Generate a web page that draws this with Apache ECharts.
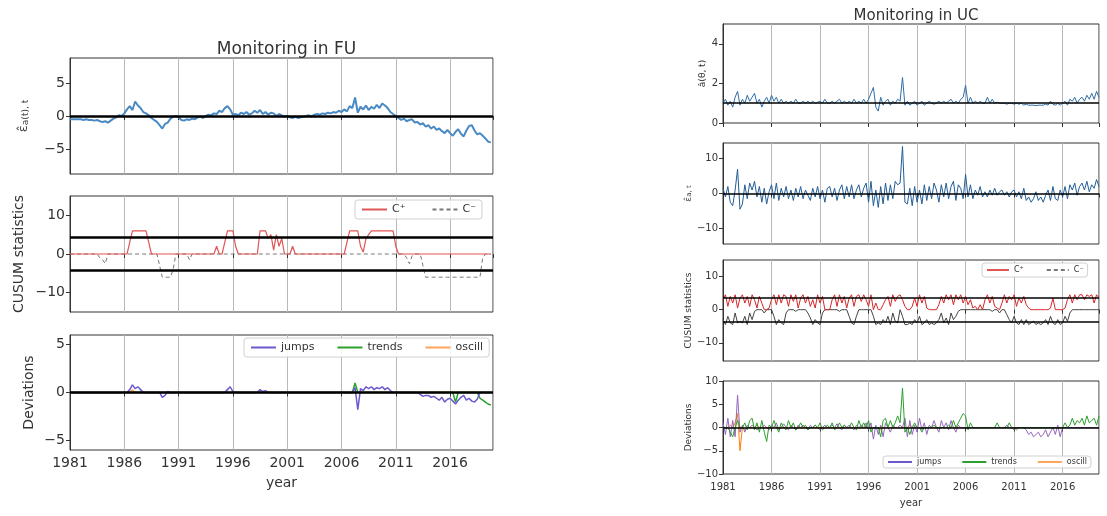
<!DOCTYPE html>
<html><head><meta charset="utf-8">
<script src="https://cdn.jsdelivr.net/npm/echarts@6/dist/echarts.min.js"></script>
<style>html,body{margin:0;padding:0;background:#fff}#c{width:1107px;height:516px}</style>
</head><body><div id="c"></div><script>
// ---------------- data ----------------
const START_YEAR = 1981;
const STEP = 0.25; // quarterly samples, 1981.00 ... 2019.75
const xTickLabels = ['1981','1986','1991','1996','2001','2006','2011','2016'];

// Left: Monitoring in FU
const fuEps = [
 -0.5,-0.5,-0.5,-0.5,  -0.5,-0.6,-0.5,-0.6,  -0.6,-0.7,-0.6,-0.8,  -0.9,-0.8,-1.0,-0.7,
 -0.4,-0.2,0.1,0.0,    0.4,1.0,1.5,0.9,      2.2,1.6,1.2,0.6,      0.4,0.1,-0.3,-0.6,
 -0.9,-1.4,-1.9,-1.2,  -1.0,-0.4,-0.1,0.0,   -0.2,-0.6,-0.7,-0.5,  -0.6,-0.4,-0.5,-0.2,
 -0.1,-0.3,0.0,0.2,    0.1,0.4,0.3,0.8,      0.6,1.2,1.5,1.0,      0.2,0.3,0.1,0.5,
 0.3,0.6,0.2,0.4,      0.8,0.5,0.9,0.3,      0.6,0.2,0.5,0.4,      0.0,0.3,0.1,-0.1,
 0.0,-0.2,-0.3,-0.1,   -0.3,-0.2,-0.1,0.0,   0.1,-0.1,0.2,0.3,     0.2,0.4,0.3,0.5,
 0.4,0.6,0.5,0.8,      0.6,1.0,0.7,1.5,      1.2,2.8,0.5,1.4,      1.0,1.6,0.9,1.4,
 1.1,1.7,1.2,1.9,      1.6,1.2,0.6,0.3,      0.0,-0.3,-0.6,-0.4,   -0.8,-0.6,-0.5,-1.0,
 -0.9,-1.3,-1.1,-1.6,  -1.4,-1.9,-1.6,-2.1,  -1.9,-2.3,-2.6,-2.1,  -2.6,-3.0,-2.4,-2.0,
 -2.7,-3.1,-2.2,-1.5,  -1.4,-2.2,-2.8,-2.6,  -3.0,-3.4,-3.9,-4.0
];
const fuCplus = [
 0,0,0,0, 0,0,0,0, 0,0,0,0, 0,0,0,0, 0,0,0,0, 0,0,3,6, 6,6,6,6, 6,3,0,0,
 0,0,0,0, 0,0,0,0, 0,0,0,0, 0,0,0,0, 0,0,0,0, 0,0,2,0, 0,3,6,6, 6,2,0,0,
 0,0,0,0, 0,0,6,6, 6,4,5,1, 5,2,4,0, 0,0,2,0, 0,0,0,0, 0,0,0,0, 0,0,0,0,
 0,0,0,0, 0,0,3,6, 6,6,6,2, 0.5,4,5,6, 6,6,6,6, 6,6,6,6, 2,0,0,0, 0,0,0,0,
 0,0,0,0, 0,0,0,0, 0,0,0,0, 0,0,0,0, 0,0,0,0, 0,0,0,0, 0,0,0,0
];
const fuCminus = [
 0,0,0,0, 0,0,0,0, 0,0,0,-1, -1.5,-2.5,0,0, 0,0,0,0, 0,0,0,0, 0,0,0,0, 0,0,0,0,
 0,-3,-6,-6, -6,-6,-4,0, 0,0,0,0, -1.5,0,0,0, 0,0,0,0, 0,0,0,0, 0,0,0,0, 0,0,0,0,
 0,0,0,0, 0,0,0,0, 0,0,0,0, 0,0,0,0, 0,0,0,0, 0,0,0,0, 0,0,0,0, 0,0,0,0,
 0,0,0,0, 0,0,0,0, 0,0,0,0, 0,0,0,0, 0,0,0,0, 0,0,0,0, 0,0,0,0, -1,-2.5,-0.5,0,
 0,0,-3,-6, -6,-6,-6,-6, -6,-6,-6,-6, -6,-6,-6,-6, -6,-6,-6,-6, -6,-6,-6,-6, -1,0,0,0
];
const fuJumps = [
 0,0,0,0, 0,0,0,0, 0,0,0,0, 0,0,0,0, 0,0,0,0, 0,0,0.3,0.8, 0.4,0.6,0.3,0, 0,0,0,0,
 0,0,-0.5,-0.3, 0.1,0,0,0, 0,0,0,0, 0,0,0,0, 0,0,0,0, 0,0,0,0, 0,0,0.3,0.6, 0.1,0,0,0,
 0,0,0,0, 0,0,0.3,0.1, 0.2,0,0,0, 0,0,0,0, 0,0,0,0, 0,0,0,0, 0,0,0,0, 0,0,0,0,
 0,0,0,0, 0,0,0,0, 0,0.5,-1.8,0.4, 0.2,0.6,0.4,0.6, 0.3,0.5,0.4,0.6, 0.3,0.5,0.2,0, 0,0,0,0, 0,0,0,0,
 0,-0.2,-0.4,-0.3, -0.3,-0.5,-0.4,-0.6, -0.8,-0.5,-1.0,-0.7, -0.6,-0.9,-1.2,-0.8, -0.5,-0.3,-0.8,-0.6, -0.9,-1.0,-0.7,0, 0,0,0,0
];
const fuTrends = [
 0,0,0,0, 0,0,0,0, 0,0,0,0, 0,0,0,0, 0,0,0,0, 0,0,0,0, 0,0,0,0, 0,0,0,0,
 0,0,0,0, 0,0,0,0, 0,0,0,0, 0,0,0,0, 0,0,0,0, 0,0,0,0, 0,0,0,0, 0,0,0,0,
 0,0,0,0, 0,0,0,0, 0,0,0,0, 0,0,0,0, 0,0,0,0, 0,0,0,0, 0,0,0,0, 0,0,0,0,
 0,0,0,0, 0,0,0,0, 0,1.0,0,0, 0,0,0,0, 0,0,0,0, 0,0,0,0, 0,0,0,0, 0,0,0,0,
 0,0,0,0, 0,0,0,0, 0,0,0,0, 0,0,-1.0,0, 0,0,0,0, 0,0,0,-0.6, -0.8,-1.0,-1.2,-1.3
];
const fuOscill = [
 0,0,0,0, 0,0,0,0, 0,0,0,0, 0,0,0,0, 0,0,0,0, 0,0,0,0.3, 0,0,0,0, 0,0,0,0,
 0,0,0,0, 0,0,0,0, 0,0,0,0, 0,0,0,0, 0,0,0,0, 0,0,0,0, 0,0,0,0, 0,0,0,0,
 0,0,0,0, 0,0,0,0, 0,0,0,0, 0,0,0,0, 0,0,0,0, 0,0,0,0, 0,0,0,0, 0,0,0,0,
 0,0,0,0, 0,0,0,0, 0,0,0,0, 0,0,0,0, 0,0,0,0, 0,0,0,0, 0,0,0,0, 0,0,0,0,
 0,0,0,0, 0,0,0,0, 0,0,0,0, 0,0,0,0, 0,0,0,0, 0,0,0,0, 0,0,0,0
];
const fuThresholds = [4.3, -4.3];

// Right: Monitoring in UC
const ucA = [
 1.0,1.2,0.9,1.1, 0.8,1.3,1.6,0.9, 1.2,1.0,1.4,1.1, 1.3,1.5,1.0,1.2, 0.8,1.1,1.3,1.0,
 1.4,1.1,1.3,1.0, 1.2,1.0,1.1,1.0, 1.1,1.0,1.2,1.0, 1.0,1.1,1.0,1.1, 1.0,1.1,1.0,1.05,
 1.1,1.0,1.2,1.0, 1.0,1.1,1.0,1.1, 1.2,1.0,1.1,1.0, 1.1,1.0,1.2,1.0, 1.1,1.0,1.2,1.0,
 1.2,1.5,1.8,0.8, 0.6,1.3,0.9,1.1, 1.2,0.9,1.1,1.0, 1.2,1.1,2.3,0.9, 1.1,0.9,1.0,1.1,
 0.9,1.0,1.1,0.9, 1.0,1.1,1.0,0.95, 1.0,1.1,1.0,1.1, 1.0,1.1,1.2,1.0, 1.1,1.0,1.2,1.3,
 1.9,1.0,1.3,1.0, 1.1,1.0,1.1,1.0, 1.0,1.3,1.0,1.2, 1.0,1.05,1.0,1.0, 1.0,0.95,1.0,1.0,
 0.95,1.0,0.95,1.0, 0.9,0.95,0.9,0.9, 0.9,0.88,0.9,0.9, 0.9,0.95,0.9,1.1, 0.95,0.9,1.0,0.9,
 1.0,1.1,0.9,1.2, 1.1,1.3,1.0,1.2, 1.3,1.1,1.4,1.2, 1.5,1.2,1.6,1.3
];
const ucEps = [
 1.5,-1.0,2.0,-2.5, -3.5,1.0,7.0,-4.5, -3.0,2.5,-1.5,3.0, 1.0,3.5,-1.0,2.0, -2.5,1.5,-3.0,0.5,
 2.5,-1.5,3.0,-2.0, 1.5,-1.0,2.0,-1.5, 1.0,-2.0,1.5,-1.0, 2.0,-1.5,1.0,-0.5, -2.0,1.5,-1.0,2.0,
 -1.5,1.0,-2.5,1.5, 2.0,-1.0,1.5,-2.0, 1.0,2.5,-1.5,2.0, -1.0,2.5,-1.5,1.0, 2.5,-1.0,1.5,3.0,
 -2.5,3.5,-3.5,1.0, -4.0,2.0,-3.0,3.0, -2.0,2.5,-1.5,3.5, 2.5,3.0,13.5,-2.5, -3.0,1.5,-3.5,2.0,
 -2.5,1.0,-3.0,2.5, -2.0,2.0,-1.5,3.0, 1.0,-2.5,2.5,-1.0, 3.0,-1.5,2.0,3.5, -2.0,2.5,1.5,-1.5,
 5.5,-1.0,2.5,-1.5, 1.0,-0.5,2.0,-1.0, 0.5,-1.0,1.0,-0.5, 1.5,-0.5,0.5,1.0, -0.5,0.5,-1.0,0.5,
 1.0,-1.0,0.5,-1.5, 1.5,-2.0,-1.0,-2.5, -1.5,0.5,-2.0,-1.0, -2.5,-0.5,1.0,-2.0, 2.0,-1.5,-2.0,1.0,
 -1.0,2.0,-1.5,2.5, 1.0,3.0,-0.5,2.0, 3.0,1.0,3.5,0.5, 2.5,1.5,4.0,2.0
];
const ucCplus = [
 3,4.5,1,4, 2,4.5,0.5,3.5, 4.5,2,4,1, 4.5,3,0.5,4, 2,0,0,0.5,
 3,4.5,1.5,4.5, 2,4.5,4,1, 4.5,2.5,4.5,0.5, 3.5,4.5,2,4, 1,3,0.5,4.5,
 2,4,0,0, 0,3,4.5,1, 4.5,2,4,0.5, 3.5,4.5,1,4, 4.5,2.5,4.5,3,
 1,4.5,0,2, 0,0,1.5,3, 4,1,4.5,2.5, 4,4.5,3,1, 0,0,1,3.5,
 1,4.5,2,4, 0.5,0,0,0, 0,1.5,4,2, 4.5,3,4.5,1.5, 4.5,3,4.5,2,
 4,1.5,3,0.5, 1,0,1.5,0, 3,4.5,2,4, 1,0.5,0,2, 4.5,2,4,3,
 4.5,1,3.5,2, 4,1.5,0.5,0, 0,0,0,0, 0,0,0,0.5, 3.5,0,0,0,
 0,0.5,3,4.5, 2,4.5,3,4.5, 4.5,3,4.5,4, 4.5,2,4.5,3.5
];
const ucCminus = [
 -3,-4.5,-2,-4, -4.5,-1,-4,-3.5, -4,-2,-4.5,-1, -3,-0.5,0,0, 0,-1,0,0,
 0,-2,-4.5,-3, -4,-4.5,-1,0, 0,0,-0.5,0, 0,0,0,-1, -2.5,-4.5,-3,-4,
 -4.5,-1,0,0, 0,0,0,0, -0.5,0,0,0, -2,-4,-4.5,-2, 0,0,0,0,
 0,0,-2,-4.5, -4,-4.5,-3,-4, -2,-4.5,-1,-3.5, -4,0,-2,-4.5, -4.5,-4,-4.5,-3,
 -4,-2,-4.5,-4, -3,-4.5,-4,-4.5, -4,-3,-1,-4, -2.5,-4.5,-1,-3, -2,-0.5,0,0,
 0,0,0,0, 0,0,0,0, 0,0,0,-0.5, 0,0,-1,0, 0,-1.5,-3,-4,
 -2,-4,-4.5,-3, -4.5,-3,-4.5,-4, -3.5,-4.5,-4,-4.5, -4,-3,-4.5,-2, -4,-4.5,-3,-4.5,
 -4,-2,-3.5,-1, 0,0,0,0, 0,0,0,0, 0,0,0,0
];
const ucThresholds = [3.6, -3.6];
const ucJumps = [
 1.0,-1.5,2.0,-2.0, 1.5,-2.0,7.0,-1.0, 0.5,-1.0,0.5,0, 0.5,0,-0.5,0, 0,0.5,0,-0.5,
 0.5,0,1.0,-0.5, 0,0.8,0,-0.5, 0.5,0,-0.5,0.5, 0,0.5,0,-0.5, 0.5,0,0.5,0,
 -0.5,0,0.5,0, 0,0.5,0,0.8, 0,-0.5,0.5,0, 0.5,0,-0.5,0.5, 0,0.5,0,1.0,
 -0.5,1.0,-2.5,0.5, -1.5,0.5,-2.0,1.0, 0,-1.0,0.5,0, 0,0.5,0,2.0, -2.0,1.5,-1.5,0.5,
 -1.0,2.0,-0.5,1.0, -1.5,0.5,0,1.5, 0,-1.0,1.5,0, 1.0,-0.5,1.5,0, -1.0,0.5,0,0,
 0,0,0,0, 0,0,0,0, 0,0,0,0, 0,0,0,0, 0,0.5,0,0,
 0,-0.5,0,0, 0,-0.5,-1.5,-1.0, -2.0,-1.5,-1.0,-2.0, -1.5,-0.5,-2.0,-1.0, 0,-1.5,0.5,-2.0,
 0,0,0,0, 0,0,0,0, 0,0,0,0, 0,0,0,0
];
const ucTrends = [
 0,0,0,-1.0, -2.0,0,1.5,0, 0,1.0,-0.5,1.5, 2.0,-0.5,1.0,-1.0, 1.5,-1.0,-3.0,0.5,
 0,1.5,0,-1.0, 1.0,0,-0.5,1.5, 0,1.0,-0.5,0, 1.0,0,0.5,-0.5, 0,0,0.5,0,
 1.0,-0.5,0,0.5, 0,1.0,-0.5,0, 1.0,0,0.5,0, 0,1.0,0,-0.5, 1.5,0,1.0,0,
 1.5,-1.0,0,0, 0,-2.0,1.5,2.0, 0,1.5,0,1.0, 2.5,1.0,8.5,-1.0, 0,-1.5,0,1.0,
 0,0,-1.0,0, 0,0,0,0.5, 0,0,0,0, 0,0.5,0,1.5, 0,1.0,2.0,3.0,
 2.5,-0.5,1.0,0, 0,0,0,0, 0,0,0,0, 0,1.0,0,0, 0,0,1.0,0,
 -0.5,0,0,0, 0,0,0,0, 0,0,0,0, 0,0,0,0, 0,0,0,0,
 0,1.0,0,0.5, 2.0,0.5,1.5,1.0, 2.0,0.5,2.5,1.0, 1.5,2.0,0.5,2.5
];
const ucOscill = [
 0,0,0,0.5, 0,1.0,3.0,-5.0, 0,-0.5,0,0, 0,0,0.5,0, 0,0,0,0,
 0,0,0,0, 0,0,0,0, 0,0,0,0, 0,0,0,0, 0,0,0,0,
 0,0,0,0, 0,0,0,0, 0,0,0,0, 0,0,0,0, 0,0,0,0,
 0,0,0,0, 0,-0.5,0,0, 0,0,0,0, 0,0,0,0, 0,0.5,0,0,
 0,0,0,0, 0,0,0,0, 0,0,0,0, 0,0,0,0, 0,0,0,0,
 0,0,0,0, 0,0,0,0, 0,0,0,0, 0,0,0,0, 0,0,0,0,
 0,0,0,0, 0,0,0,0, 0,0,0,0, 0,0,0,0, 0,0,0,0,
 0,0,0,0, 0,0,0,0, 0,0,0,0, 0,0,0,0
];

// ---------------- chart ----------------
const FONT = 'DejaVu Sans';
const xy = arr => arr.map((v, i) => [i * STEP, v]);
const minusFmt = v => (v < 0 ? '\u2212' + Math.abs(v) : String(v));

const grids = [
  {left: 70, top: 58, width: 423, height: 116},
  {left: 70, top: 196, width: 423, height: 116},
  {left: 70, top: 335, width: 423, height: 115},
  {left: 723, top: 24, width: 376, height: 99},
  {left: 723, top: 143, width: 376, height: 101},
  {left: 723, top: 260, width: 376, height: 101},
  {left: 723, top: 381, width: 376, height: 93}
].map(g => Object.assign({show: true, borderColor: '#333', borderWidth: 1, backgroundColor: 'transparent'}, g));

function xAxis(i, max, show, fs, margin, nameGap) {
  return {
    type: 'value', gridIndex: i, min: 0, max: max, interval: 5,
    axisLine: {show: false},
    axisTick: {show: true, length: 4, lineStyle: {color: '#333'}},
    axisLabel: {show: show, fontSize: fs, color: '#333', margin: margin, fontFamily: FONT,
      showMaxLabel: false,
      formatter: v => (Math.abs(v % 5) < 1e-6 ? xTickLabels[Math.round(v / 5)] || '' : '')},
    splitLine: {show: true, lineStyle: {color: '#b8b8b8', width: 1}},
    name: show ? 'year' : '', nameLocation: 'middle', nameGap: nameGap || 20,
    nameTextStyle: {fontSize: fs, color: '#333', fontFamily: FONT}
  };
}
function yAxis(i, min, max, ticks, fs, name, nameGap, nameFs, rich) {
  return {
    type: 'value', gridIndex: i, min: min, max: max,
    axisLine: {show: true, lineStyle: {color: '#333'}},
    axisTick: {show: true, length: 4, customValues: ticks, lineStyle: {color: '#333'}},
    axisLabel: {customValues: ticks, fontSize: fs, color: '#333', margin: 5, fontFamily: FONT, formatter: minusFmt},
    splitLine: {show: false},
    name: name, nameLocation: 'middle', nameGap: nameGap, nameRotate: 90,
    nameTextStyle: {fontSize: nameFs, color: '#333', fontFamily: FONT, rich: rich}
  };
}
const epsRichL = {b: {fontSize: 13, fontFamily: FONT, color: '#444'}, s: {fontSize: 9, fontFamily: FONT, color: '#444', verticalAlign: 'bottom'}};
const epsRichR = {b: {fontSize: 9, fontFamily: FONT, color: '#444'}, s: {fontSize: 7, fontFamily: FONT, color: '#444', verticalAlign: 'bottom'}};

const xAxes = [
  xAxis(0, 38.95, false, 14, 6), xAxis(1, 38.95, false, 14, 6), xAxis(2, 38.95, true, 14, 6, 26),
  xAxis(3, 38.75, false, 10, 8), xAxis(4, 38.75, false, 10, 8), xAxis(5, 38.75, false, 10, 8), xAxis(6, 38.75, true, 10, 8, 24)
];
const yAxes = [
  yAxis(0, -8.8, 8.8, [-5, 0, 5], 14, '{b|ε̂}{s|a(t), t}', 40, 13, epsRichL),
  yAxis(1, -15, 15, [-10, 0, 10], 14, 'CUSUM statistics', 44, 14),
  yAxis(2, -6, 6, [-5, 0, 5], 14, 'Deviations', 34, 14),
  yAxis(3, 0, 5, [0, 2, 4], 10, 'â(θ, t)', 16, 9),
  yAxis(4, -14.5, 14.5, [-10, 0, 10], 10, '{b|ε̂}{s|a, t}', 22, 9, epsRichR),
  yAxis(5, -15.5, 15, [-10, 0, 10], 10, 'CUSUM statistics', 22, 9),
  yAxis(6, -10, 10, [-10, -5, 0, 5, 10], 10, 'Deviations', 22, 9)
];

function line(i, name, data, color, width, type) {
  return {type: 'line', name: name, xAxisIndex: i, yAxisIndex: i, data: xy(data),
    showSymbol: false, symbol: 'none', animation: false,
    lineStyle: {color: color, width: width, type: type || 'solid'}, itemStyle: {color: color}};
}
function hlines(values, width) {
  return {silent: true, symbol: 'none', animation: false, label: {show: false},
    lineStyle: {color: '#000', width: width, type: 'solid'},
    data: values.map(v => ({yAxis: v}))};
}

const series = [];
let s;
s = line(0, 'epsFU', fuEps, '#4a8ac4', 2); s.markLine = hlines([0], 2.5); series.push(s);
series.push(line(1, 'C⁻', fuCminus, '#777777', 1, [4, 3]));
s = line(1, 'C⁺', fuCplus, '#e05555', 1.2); s.markLine = hlines(fuThresholds, 2.5); series.push(s);
series.push(line(2, 'oscill', fuOscill, '#ffa55a', 1.3));
series.push(line(2, 'trends', fuTrends, '#2ca02c', 1.5));
s = line(2, 'jumps', fuJumps, '#6a5acd', 1.5); s.markLine = hlines([0], 2.5); series.push(s);

s = line(3, 'aUC', ucA, '#2f6fa8', 1); s.markLine = hlines([1], 1.5); series.push(s);
s = line(4, 'epsUC', ucEps, '#235d96', 1); s.markLine = hlines([0], 1.5); series.push(s);
series.push(line(5, 'C⁻', ucCminus, '#444444', 1));
s = line(5, 'C⁺', ucCplus, '#d62728', 1); s.markLine = hlines(ucThresholds, 1.5); series.push(s);
series.push(line(6, 'oscill', ucOscill, '#ff7f0e', 1));
series.push(line(6, 'jumps', ucJumps, '#9467bd', 1));
s = line(6, 'trends', ucTrends, '#2ca02c', 1); s.markLine = hlines([0], 1.5); series.push(s);

const legendBase = {orient: 'horizontal', backgroundColor: 'rgba(255,255,255,0.85)', borderColor: '#d0d0d0',
  borderWidth: 1, borderRadius: 3, selectedMode: false, animation: false,
  itemStyle: {opacity: 0, borderWidth: 0}};
const legends = [
  Object.assign({}, legendBase, {data: ['C⁺', 'C⁻'], left: 355, top: 200, padding: [4, 6], itemWidth: 25, itemHeight: 8, itemGap: 26,
    textStyle: {fontSize: 11, color: '#333', fontFamily: FONT}}),
  Object.assign({}, legendBase, {data: ['jumps', 'trends', 'oscill'], left: 244, top: 338, padding: [4, 6], itemWidth: 25, itemHeight: 8, itemGap: 22,
    textStyle: {fontSize: 11, color: '#333', fontFamily: FONT}}),
  Object.assign({}, legendBase, {data: ['C⁺', 'C⁻'], left: 982, top: 263, padding: [3, 4], itemWidth: 22, itemHeight: 6, itemGap: 22,
    textStyle: {fontSize: 8, color: '#333', fontFamily: FONT}}),
  Object.assign({}, legendBase, {data: ['jumps', 'trends', 'oscill'], left: 883, top: 456, padding: [2, 4], itemWidth: 24, itemHeight: 6, itemGap: 20,
    textStyle: {fontSize: 8, color: '#333', fontFamily: FONT}})
];

const chart = echarts.init(document.getElementById('c'), null, {renderer: 'canvas'});
chart.setOption({
  animation: false,
  backgroundColor: '#fff',
  textStyle: {fontFamily: FONT},
  title: [
    {text: 'Monitoring in FU', left: 281.5, top: 36, textAlign: 'center',
      textStyle: {fontSize: 17, fontWeight: 'normal', color: '#333', fontFamily: FONT}},
    {text: 'Monitoring in UC', left: 911, top: 4, textAlign: 'center',
      textStyle: {fontSize: 15, fontWeight: 'normal', color: '#333', fontFamily: FONT}}
  ],
  legend: legends,
  grid: grids,
  xAxis: xAxes,
  yAxis: yAxes,
  series: series
});
</script></body></html>
